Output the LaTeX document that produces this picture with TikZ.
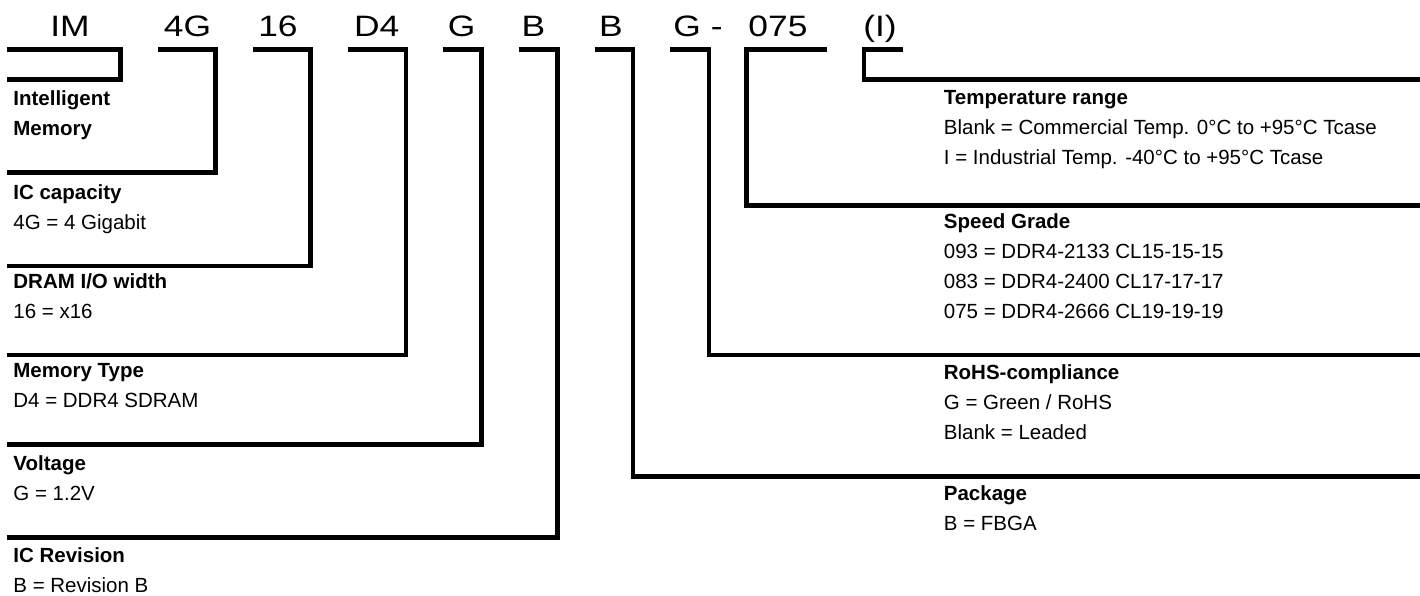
\documentclass[tikz,border=0pt]{standalone}
\usepackage{fontspec}
\setmainfont{Liberation Sans}
\newfontfamily\codefont[FakeStretch=1.2]{Liberation Sans}
\usepackage{tikz}

\begin{document}
\begin{tikzpicture}[x=1pt, y=-1pt, line width=4.8pt,
  code/.style={font=\codefont\fontsize{29.5}{30}\selectfont, anchor=base, inner sep=0pt},
  desc/.style={font=\fontsize{20.5}{30}\selectfont, anchor=north west, align=left, inner sep=0pt},
  bracket/.style={draw, line join=miter, line cap=butt}]
\useasboundingbox (0,0) rectangle (1420,595);

% part number fields
\node[code] (cIM) at (70,36) {IM};
\node[code] (cCap) at (187.5,36) {4G};
\node[code] (cWidth) at (278,36) {16};
\node[code] (cType) at (376.7,36) {D4};
\node[code] (cVolt) at (461.7,36) {G};
\node[code] (cRev) at (533.3,36) {B};
\node[code] (cPkg) at (611,36) {B};
\node[code] (cRoHS) at (698,36) {G -};
\node[code] (cSpeed) at (778,36) {075};
\node[code] (cTemp) at (880,36) {(I)};

% bracket start, corner and end points
\coordinate (tIM) at (7,49.5);     \coordinate (kIM) at (120.8,79.5);   \coordinate (eIM) at (7,79.5);
\coordinate (tCap) at (158,49.5);  \coordinate (kCap) at (215.5,172.5); \coordinate (eCap) at (7,172.5);
\coordinate (tWidth) at (253,49.5);\coordinate (kWidth) at (310.8,266); \coordinate (eWidth) at (7,266);
\coordinate (tType) at (348,49.5); \coordinate (kType) at (406,355);    \coordinate (eType) at (7,355);
\coordinate (tVolt) at (443,49.5); \coordinate (kVolt) at (481.7,444.5);\coordinate (eVolt) at (7,444.5);
\coordinate (tRev) at (519,49.5);  \coordinate (kRev) at (557.3,537.7); \coordinate (eRev) at (7,537.7);
\coordinate (tPkg) at (595,49.5);  \coordinate (kPkg) at (633,476.5);   \coordinate (ePkg) at (1420,476.5);
\coordinate (tRoHS) at (670,49.5); \coordinate (kRoHS) at (709,355);    \coordinate (eRoHS) at (1420,355);
\coordinate (tSpeed) at (827,49.5);\coordinate (kSpeed) at (746.7,205.5);\coordinate (eSpeed) at (1420,205.5);
\coordinate (tTemp) at (903,49.5); \coordinate (kTemp) at (864,79.5);   \coordinate (eTemp) at (1420,79.5);

\path[bracket] (tIM) -| (kIM) -- (eIM);
\path[bracket] (tCap) -| (kCap) -- (eCap);
\path[bracket] (tWidth) -| (kWidth) -- (eWidth);
\path[bracket] (tType) -| (kType) -- (eType);
\path[bracket] (tVolt) -| (kVolt) -- (eVolt);
\path[bracket] (tRev) -| (kRev) -- (eRev);
\path[bracket] (tPkg) -| (kPkg) -- (ePkg);
\path[bracket] (tRoHS) -| (kRoHS) -- (eRoHS);
\path[bracket] (tSpeed) -| (kSpeed) -- (eSpeed);
\path[bracket] (tTemp) -| (kTemp) -- (eTemp);

% descriptions, left column
\node[desc] (dIM) at (11,88.5) {\textbf{Intelligent}\\\textbf{Memory}};
\node[desc] (dCap) at (11,181.9) {\textbf{IC capacity}\\4G = 4 Gigabit};
\node[desc] (dWidth) at (11,270.9) {\textbf{DRAM I/O width}\\16 = x16};
\node[desc] (dType) at (11,360.9) {\textbf{Memory Type}\\D4 = DDR4 SDRAM};
\node[desc] (dVolt) at (11,453.5) {\textbf{Voltage}\\G = 1.2V};
\node[desc] (dRev) at (11,545.2) {\textbf{IC Revision}\\B = Revision B};

% descriptions, right column
\node[desc] (dTemp) at (941.5,88) {\textbf{Temperature range}\\Blank = Commercial Temp. 0°C to +95°C Tcase\\I = Industrial Temp. -40°C to +95°C Tcase};
\node[desc] (dSpeed) at (941.5,211.7) {\textbf{Speed Grade}\\093 = DDR4-2133 CL15-15-15\\083 = DDR4-2400 CL17-17-17\\075 = DDR4-2666 CL19-19-19};
\node[desc] (dRoHS) at (941.5,362.5) {\textbf{RoHS-compliance}\\G = Green / RoHS\\Blank = Leaded};
\node[desc] (dPkg) at (941.5,483.5) {\textbf{Package}\\B = FBGA};
\end{tikzpicture}
\end{document}
